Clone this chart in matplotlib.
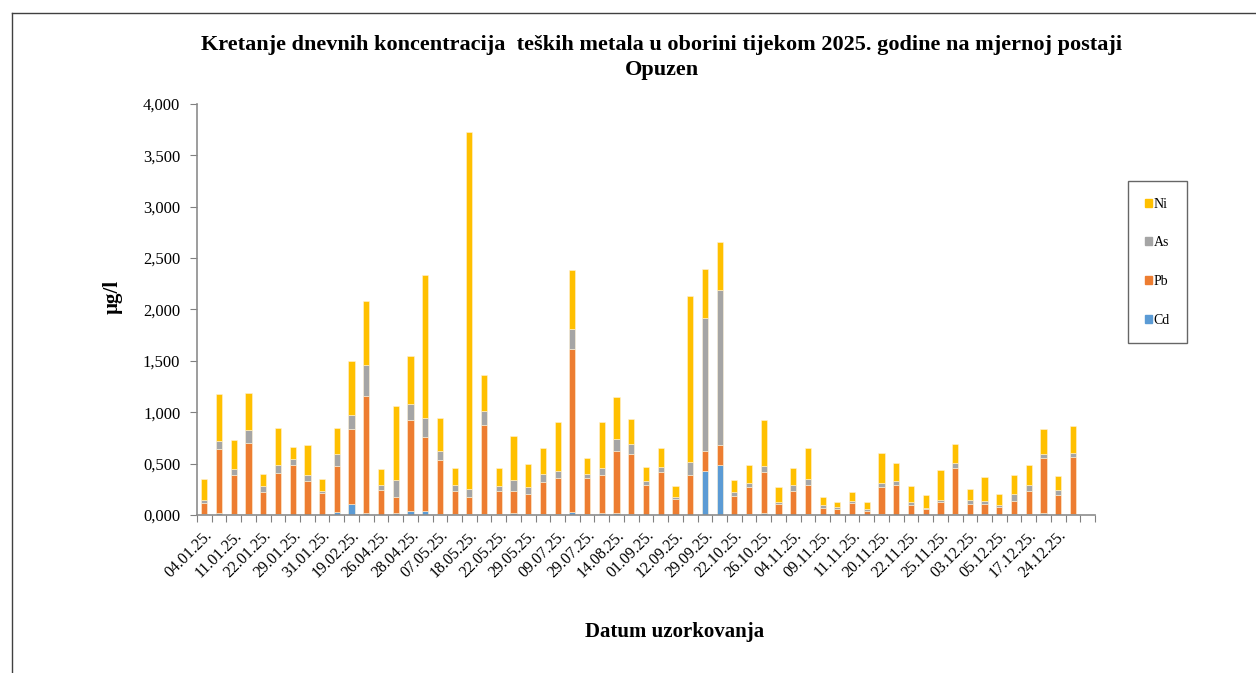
import matplotlib.pyplot as plt
from matplotlib.patches import Patch
from matplotlib.lines import Line2D
from matplotlib.ticker import FuncFormatter

# datumi (prikazana je svaka druga oznaka)
tick_labels = ["04.01.25.", "11.01.25.", "22.01.25.", "29.01.25.", "31.01.25.",
               "19.02.25.", "26.04.25.", "28.04.25.", "07.05.25.", "18.05.25.",
               "22.05.25.", "29.05.25.", "09.07.25.", "29.07.25.", "14.08.25.",
               "01.09.25.", "12.09.25.", "29.09.25.", "22.10.25.", "26.10.25.",
               "04.11.25.", "09.11.25.", "11.11.25.", "20.11.25.", "22.11.25.",
               "25.11.25.", "03.12.25.", "05.12.25.", "17.12.25.", "24.12.25."]

cd = [0.005, 0.016, 0.005, 0.010, 0.003, 0.010, 0.003, 0.003, 0.003, 0.029,
      0.110, 0.016, 0.003, 0.016, 0.039, 0.039, 0.010, 0.010, 0.010, 0.010,
      0.005, 0.016, 0.005, 0.010, 0.010, 0.032, 0.010, 0.016, 0.016, 0.010,
      0.003, 0.003, 0.003, 0.003, 0.429, 0.490, 0.003, 0.010, 0.016, 0.003,
      0.003, 0.013, 0.003, 0.003, 0.003, 0.003, 0.013, 0.003, 0.003, 0.003,
      0.003, 0.013, 0.003, 0.003, 0.003, 0.013, 0.013, 0.019, 0.003, 0.013]
pb = [0.110, 0.627, 0.380, 0.690, 0.220, 0.400, 0.480, 0.325, 0.210, 0.448,
      0.731, 1.143, 0.244, 0.163, 0.890, 0.721, 0.529, 0.224, 0.162, 0.863,
      0.226, 0.218, 0.200, 0.308, 0.347, 1.582, 0.354, 0.370, 0.607, 0.587,
      0.289, 0.413, 0.153, 0.383, 0.194, 0.195, 0.182, 0.263, 0.406, 0.104,
      0.231, 0.276, 0.068, 0.052, 0.117, 0.039, 0.260, 0.286, 0.094, 0.055,
      0.120, 0.442, 0.107, 0.107, 0.078, 0.127, 0.218, 0.533, 0.189, 0.552]
as_ = [0.030, 0.078, 0.065, 0.127, 0.058, 0.075, 0.058, 0.058, 0.020, 0.117,
       0.130, 0.296, 0.042, 0.165, 0.155, 0.188, 0.081, 0.055, 0.081, 0.137,
       0.051, 0.107, 0.068, 0.081, 0.072, 0.198, 0.039, 0.075, 0.117, 0.095,
       0.039, 0.052, 0.023, 0.130, 1.299, 1.507, 0.042, 0.039, 0.055, 0.023,
       0.055, 0.062, 0.026, 0.020, 0.013, 0.020, 0.039, 0.045, 0.030, 0.013,
       0.026, 0.051, 0.039, 0.023, 0.016, 0.061, 0.061, 0.045, 0.055, 0.039]
ni = [0.210, 0.458, 0.280, 0.364, 0.114, 0.360, 0.120, 0.293, 0.117, 0.257,
      0.529, 0.629, 0.159, 0.718, 0.461, 1.383, 0.322, 0.166, 3.477, 0.354,
      0.173, 0.425, 0.224, 0.257, 0.474, 0.571, 0.149, 0.442, 0.409, 0.240,
      0.137, 0.188, 0.100, 1.614, 0.474, 0.461, 0.114, 0.178, 0.448, 0.143,
      0.172, 0.298, 0.078, 0.055, 0.094, 0.061, 0.289, 0.169, 0.159, 0.127,
      0.289, 0.186, 0.104, 0.237, 0.108, 0.185, 0.192, 0.237, 0.133, 0.260]

series = [("Cd", cd, "#5B9BD5"), ("Pb", pb, "#ED7D31"),
          ("As", as_, "#A5A5A5"), ("Ni", ni, "#FFC000")]

plt.rcParams['font.family'] = ['Liberation Serif', 'DejaVu Serif']

fig = plt.figure(figsize=(12.56, 6.73), dpi=100)
W, H = 1256, 673
ax = fig.add_axes([197 / W, 1 - 515 / H, (1095 - 197) / W, (515 - 104) / H])

x = list(range(len(cd)))
bottom = [0.0] * len(cd)
for name, vals, col in series:
    ax.bar(x, vals, width=0.42, bottom=bottom, color=col,
           edgecolor="#FFF2D6", linewidth=0.4, label=name)
    bottom = [b + v for b, v in zip(bottom, vals)]

ax.set_xlim(-0.5, len(cd) + 0.5)
ax.set_ylim(0, 4.0)
ax.set_yticks([i * 0.5 for i in range(9)])
ax.yaxis.set_major_formatter(FuncFormatter(lambda v, p: f"{v:.3f}".replace(".", ",")))

ax.set_xticks(list(range(0, 60, 2)))
ax.set_xticklabels(tick_labels, rotation=45, ha="right", va="top",
                   rotation_mode="anchor", fontsize=11.5)
ax.set_xticks([k - 0.5 for k in range(len(cd) + 2)], minor=True)
ax.tick_params(axis="x", which="major", length=0, pad=9)
ax.tick_params(axis="x", which="minor", length=5, color="#808080", width=0.8)
ax.tick_params(axis="y", length=5, color="#808080", width=0.8, labelsize=12, pad=7)

for s in ["top", "right"]:
    ax.spines[s].set_visible(False)
for s in ["left", "bottom"]:
    ax.spines[s].set_color("#8C8C8C")
    ax.spines[s].set_linewidth(1.2)

fig.text(662 / W, 1 - 45 / H, "Kretanje dnevnih koncentracija  teških metala u oborini tijekom 2025. godine na mjernoj postaji",
         ha="center", va="center", fontsize=16, fontweight="bold")
fig.text(662 / W, 1 - 70 / H, "Opuzen", ha="center", va="center",
         fontsize=16, fontweight="bold")
fig.text(113 / W, 1 - 297 / H, "µg/l", rotation=90, ha="center", va="center",
         fontsize=15, fontweight="bold")
fig.text(675 / W, 1 - 632 / H, "Datum uzorkovanja", ha="center", va="center",
         fontsize=15, fontweight="bold")

handles = [Patch(color=c, label=n) for n, v, c in reversed(series)]
leg = fig.legend(handles=handles, loc="upper left",
                 bbox_to_anchor=(1128 / W, 1 - 181 / H), fontsize=10,
                 handlelength=0.5, handleheight=0.5, handletextpad=0.15,
                 labelspacing=1.85, borderpad=1.2, borderaxespad=0,
                 fancybox=False, frameon=True)
leg.get_frame().set_edgecolor("#404040")
leg.get_frame().set_linewidth(1.0)

# okvir grafikona
fig.add_artist(Line2D([11.7 / W, 11.7 / W], [0, 1 - 13 / H], color="#404040", lw=1.0))
fig.add_artist(Line2D([11.7 / W, 1], [1 - 13 / H, 1 - 13 / H], color="#404040", lw=1.0))

fig.savefig("out.png", dpi=100)
